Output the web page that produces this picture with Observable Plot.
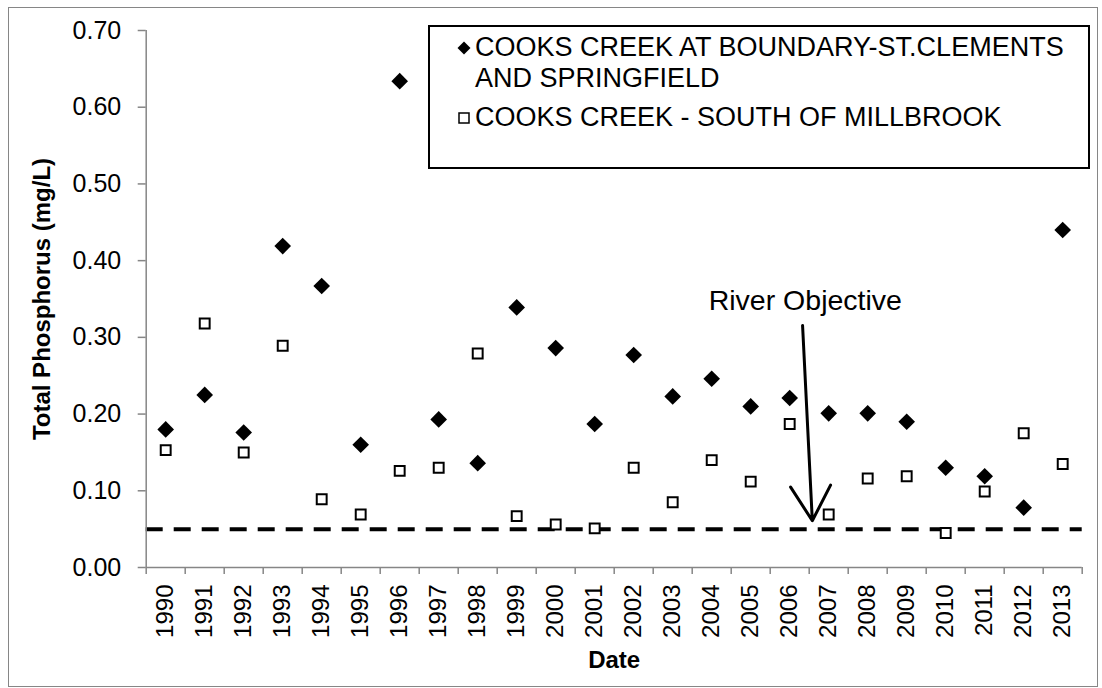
<!DOCTYPE html>
<html>
<head>
<meta charset="utf-8">
<script src="https://cdn.jsdelivr.net/npm/d3@7"></script>
<script src="https://cdn.jsdelivr.net/npm/@observablehq/plot@0.6"></script>
<style>
  html, body { margin: 0; padding: 0; background: #fff; }
  #wrap { position: relative; width: 1102px; height: 688px; font-family: "Liberation Sans", Arial, sans-serif; color: #000; overflow: hidden; }
  #frame { position: absolute; left: 8px; top: 7px; width: 1090px; height: 680px; border: 1.5px solid #868686; box-sizing: border-box; }
  #chart { position: absolute; left: 0; top: 0; }
  #legend { position: absolute; left: 428px; top: 25px; width: 662px; height: 144px; border: 2px solid #000; box-sizing: border-box; background: #fff; }
  .entry { position: absolute; left: 45px; font-size: 27px; line-height: 31px; white-space: nowrap; }
  .swatch { position: absolute; left: 26px; }
</style>
</head>
<body>
<div id="wrap">
  <div id="frame"></div>
  <div id="chart"></div>
  <div id="legend"></div>
</div>
<script>
// ---- data ----
const years = [1990, 1991, 1992, 1993, 1994, 1995, 1996, 1997, 1998, 1999, 2000, 2001,
               2002, 2003, 2004, 2005, 2006, 2007, 2008, 2009, 2010, 2011, 2012, 2013];
const seriesNames = ["COOKS CREEK AT BOUNDARY-ST.CLEMENTS AND SPRINGFIELD", "COOKS CREEK - SOUTH OF MILLBROOK"];
const legendLines = [["COOKS CREEK AT BOUNDARY-ST.CLEMENTS", "AND SPRINGFIELD"], ["COOKS CREEK - SOUTH OF MILLBROOK"]];
const boundaryTP = [0.180, 0.225, 0.176, 0.419, 0.367, 0.160, 0.634, 0.193, 0.136, 0.339, 0.286, 0.187,
                    0.277, 0.223, 0.246, 0.210, 0.221, 0.201, 0.201, 0.190, 0.130, 0.119, 0.078, 0.440];
const millbrookTP = [0.153, 0.318, 0.150, 0.289, 0.089, 0.069, 0.126, 0.130, 0.279, 0.067, 0.056, 0.051,
                     0.130, 0.085, 0.140, 0.112, 0.187, 0.069, 0.116, 0.119, 0.045, 0.099, 0.175, 0.135];
const yTicks = [0, 0.1, 0.2, 0.3, 0.4, 0.5, 0.6, 0.7];
const riverObjective = 0.05;
const objectiveLabel = [{x: 2006.9, y: 0.348, text: "River Objective"}];
const objectiveArrow = [{x1: 2006.83, y1: 0.3155, x2: 2007.08, y2: 0.061}];
const yTitle = "Total Phosphorus (mg/L)";
const xTitle = "Date";

// ---- build ----
const boundaryRows = years.map((year, i) => ({year, site: seriesNames[0], tp: boundaryTP[i]}));
const millbrookRows = years.map((year, i) => ({year, site: seriesNames[1], tp: millbrookTP[i]}));
const bandEdges = [...years, years[years.length - 1] + 1];
const bandCenters = years.map(y => y + 0.5);
const gray = "#868686";

const chart = Plot.plot({
  width: 1102,
  height: 688,
  marginLeft: 145.7,
  marginRight: 20.3,
  marginTop: 30,
  marginBottom: 121,
  style: {fontFamily: "'Liberation Sans', Arial, sans-serif", fontSize: "24px", color: "#000", background: "transparent", overflow: "visible"},
  x: {domain: [years[0], years[years.length - 1] + 1]},
  y: {domain: [0, 0.7]},
  marks: [
    Plot.ruleY([riverObjective], {stroke: "#000", strokeWidth: 4, strokeDasharray: "17,11"}),
    Plot.ruleX([years[0]], {stroke: gray, strokeWidth: 1.5}),
    Plot.ruleY([0], {stroke: gray, strokeWidth: 1.5}),
    Plot.axisY({ticks: yTicks, tickSize: 8, tickPadding: 17, tickFormat: d3.format(".2f"), stroke: gray, strokeWidth: 1.5, fontSize: 25, label: null}),
    Plot.axisX({ticks: bandEdges, tickSize: 7, tickFormat: () => "", stroke: gray, strokeWidth: 1.5, label: null}),
    Plot.axisX({ticks: bandCenters, tickSize: 0, tickPadding: 17, tickRotate: -90, tickFormat: d => String(Math.round(d - 0.5)), fontSize: 24, label: null}),
    Plot.arrow(objectiveArrow, {x1: "x1", y1: "y1", x2: "x2", y2: "y2", stroke: "#000", strokeWidth: 3, headLength: 20, headAngle: 60}),
    Plot.text(objectiveLabel, {x: "x", y: "y", text: "text", fontSize: 28.5, fill: "#000"}),
    Plot.dot(millbrookRows, {x: d => d.year + 0.5, y: "tp", symbol: "square2", r: 6.3, fill: "#fff", stroke: "#000", strokeWidth: 2}),
    Plot.dot(boundaryRows, {x: d => d.year + 0.5, y: "tp", symbol: "diamond2", r: 7.5, fill: "#000", stroke: "none"}),
    Plot.text([yTitle], {frameAnchor: "left", textAnchor: "middle", dx: -104, rotate: -90, text: d => d, fontSize: 24, fontWeight: "bold", fill: "#000"}),
    Plot.text([xTitle], {frameAnchor: "bottom", textAnchor: "middle", dy: 100, text: d => d, fontSize: 24, fontWeight: "bold", fill: "#000"})
  ]
});
document.getElementById("chart").appendChild(chart);

// ---- legend ----
const legend = document.getElementById("legend");
const swatches = [
  '<svg width="16" height="16" viewBox="-8 -8 16 16"><path d="M0,-6.5L6.5,0L0,6.5L-6.5,0Z" fill="#000"/></svg>',
  '<svg width="16" height="16" viewBox="-8 -8 16 16"><rect x="-5" y="-5" width="10" height="10" fill="#fff" stroke="#000" stroke-width="1.5"/></svg>'
];
const entryTops = [5, 75];
legendLines.forEach((lines, i) => {
  const sw = document.createElement("div");
  sw.className = "swatch";
  sw.style.top = (entryTops[i] + 8) + "px";
  sw.innerHTML = swatches[i];
  legend.appendChild(sw);
  const t = document.createElement("div");
  t.className = "entry";
  t.style.top = entryTops[i] + "px";
  t.innerHTML = lines.join("<br>");
  legend.appendChild(t);
});
</script>
</body>
</html>
